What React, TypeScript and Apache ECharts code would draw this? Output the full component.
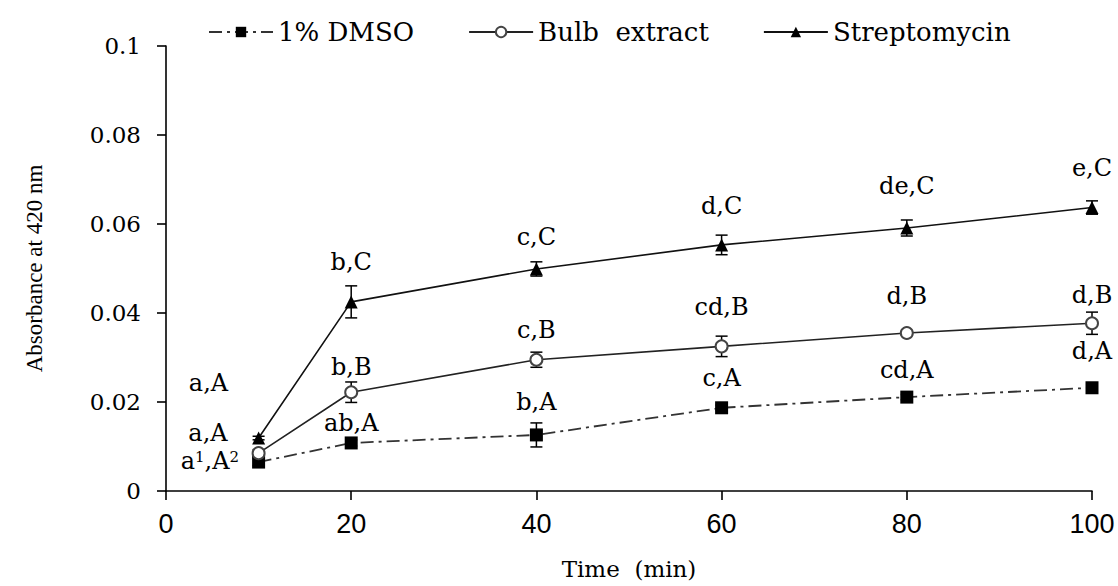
import React, { useEffect, useRef } from "react";
import * as echarts from "echarts";

const times = [10, 20, 40, 60, 80, 100];
const dmso = [0.0065, 0.0108, 0.0126, 0.0187, 0.0211, 0.0232];
const dmsoErr = [0.0008, 0.0007, 0.0027, 0.0006, 0.0006, 0.0006];
const bulb = [0.0085, 0.0222, 0.0295, 0.0325, 0.0355, 0.0377];
const bulbErr = [0.0008, 0.0023, 0.0017, 0.0023, 0.0005, 0.0025];
const strep = [0.0119, 0.0425, 0.0499, 0.0553, 0.0591, 0.0637];
const strepErr = [0.0004, 0.0036, 0.0016, 0.0022, 0.0018, 0.0015];

const dmsoLabels = ["a{sup|1},A{sup|2}", "ab,A", "b,A", "c,A", "cd,A", "d,A"];
const bulbLabels = ["a,A", "b,B", "c,B", "cd,B", "d,B", "d,B"];
const strepLabels = ["a,A", "b,C", "c,C", "d,C", "de,C", "e,C"];

const seriesNames = ["1% DMSO", "Bulb  extract", "Streptomycin"];
const xTicks = [0, 20, 40, 60, 80, 100];

// label layout (px above the point, per point; first point labels sit to the left)
const dmsoLift = [0, 1, 14, 11, 9, 18];
const bulbLift = [0, 6, 11, 20, 18, 9];
const strepLift = [0, 21, 13, 20, 24, 21];

const SERIF = "DejaVu Serif";
const TIMES = "Liberation Serif";
const SANS = "Liberation Sans";

export default function App() {
  const ref = useRef<HTMLDivElement>(null);
  useEffect(() => {
    if (!ref.current) return;
    const chart = echarts.init(ref.current, null, { renderer: "svg" });

    const labelBase = {
      show: true,
      position: "top",
      fontFamily: SERIF,
      fontSize: 24,
      color: "#000",
      rich: {
        sup: { fontFamily: SERIF, fontSize: 15, verticalAlign: "top", lineHeight: 15, color: "#000" },
      },
    };

    const mk = (vals: number[], labels: string[], lift: number[], firstOffset: number[]) =>
      times.map((t, i) => {
        const item: any = { value: [t, vals[i]] };
        item.label =
          i === 0
            ? { formatter: labels[i], position: "left", offset: firstOffset }
            : { formatter: labels[i], distance: lift[i] };
        return item;
      });

    const errSeries = (vals: number[], errs: number[]) => ({
      type: "custom",
      z: 2,
      silent: true,
      renderItem: (params: any, api: any) => {
        const x = api.value(0);
        const y = api.value(1);
        const e = api.value(2);
        const top = api.coord([x, y + e]);
        const bot = api.coord([x, y - e]);
        const w = 6;
        const st = { stroke: "#000", lineWidth: 1.5 };
        return {
          type: "group",
          children: [
            { type: "line", shape: { x1: top[0], y1: top[1], x2: bot[0], y2: bot[1] }, style: st },
            { type: "line", shape: { x1: top[0] - w, y1: top[1], x2: top[0] + w, y2: top[1] }, style: st },
            { type: "line", shape: { x1: bot[0] - w, y1: bot[1], x2: bot[0] + w, y2: bot[1] }, style: st },
          ],
        };
      },
      data: times.map((t, i) => [t, vals[i], errs[i]]),
    });

    chart.setOption({
      animation: false,
      backgroundColor: "#fff",
      grid: { left: 166, right: 26, top: 46, bottom: 95, containLabel: false },
      legend: {
        data: seriesNames,
        left: 203,
        top: 14,
        itemWidth: 64,
        itemHeight: 13,
        itemGap: 54,
        textStyle: { fontFamily: SERIF, fontSize: 26, color: "#000" },
      },
      xAxis: {
        type: "value",
        min: 0,
        max: 100,
        interval: 20,
        name: "Time  (min)",
        nameLocation: "middle",
        nameGap: 66,
        nameTextStyle: { fontFamily: SERIF, fontSize: 23, color: "#000" },
        axisLine: { lineStyle: { color: "#000", width: 1.6 } },
        axisTick: { inside: false, length: 9, lineStyle: { color: "#000", width: 1.6 } },
        axisLabel: {
          fontFamily: SANS,
          fontSize: 27,
          color: "#000",
          margin: 19,
          formatter: (v: number) => (xTicks.includes(v) ? String(v) : ""),
        },
        splitLine: { show: false },
      },
      yAxis: {
        type: "value",
        min: 0,
        max: 0.1,
        interval: 0.02,
        name: "Absorbance at 420 nm",
        nameLocation: "middle",
        nameGap: 120,
        nameTextStyle: { fontFamily: TIMES, fontSize: 23, color: "#000" },
        axisLine: { show: true, lineStyle: { color: "#000", width: 1.6 } },
        axisTick: { show: true, inside: false, length: 9, lineStyle: { color: "#000", width: 1.6 } },
        axisLabel: {
          fontFamily: SERIF,
          fontSize: 23,
          color: "#000",
          margin: 25,
          formatter: (v: number) => (v === 0 ? "0" : String(Number(v.toFixed(2)))),
        },
        splitLine: { show: false },
      },
      series: [
        errSeries(dmso, dmsoErr),
        errSeries(bulb, bulbErr),
        errSeries(strep, strepErr),
        {
          name: seriesNames[0],
          type: "line",
          z: 4,
          symbol: "rect",
          symbolSize: 13,
          itemStyle: { color: "#000" },
          lineStyle: { color: "#333", width: 1.8, type: [13, 5, 3, 5] },
          label: labelBase,
          data: mk(dmso, dmsoLabels, dmsoLift, [-8, -1]),
        },
        {
          name: seriesNames[1],
          type: "line",
          z: 5,
          symbol: "emptyCircle",
          symbolSize: 12,
          itemStyle: { color: "#444", borderColor: "#444", borderWidth: 2 },
          lineStyle: { color: "#222", width: 1.6 },
          label: labelBase,
          data: mk(bulb, bulbLabels, bulbLift, [-19, -20]),
        },
        {
          name: seriesNames[2],
          type: "line",
          z: 6,
          symbol: "triangle",
          symbolSize: 13,
          itemStyle: { color: "#000" },
          lineStyle: { color: "#111", width: 1.6 },
          label: labelBase,
          data: mk(strep, strepLabels, strepLift, [-19, -55]),
        },
      ],
    });

    return () => chart.dispose();
  }, []);

  return (
    <div
      ref={ref}
      style={{ position: "fixed", left: 0, top: 0, width: 1118, height: 586, background: "#fff" }}
    />
  );
}
